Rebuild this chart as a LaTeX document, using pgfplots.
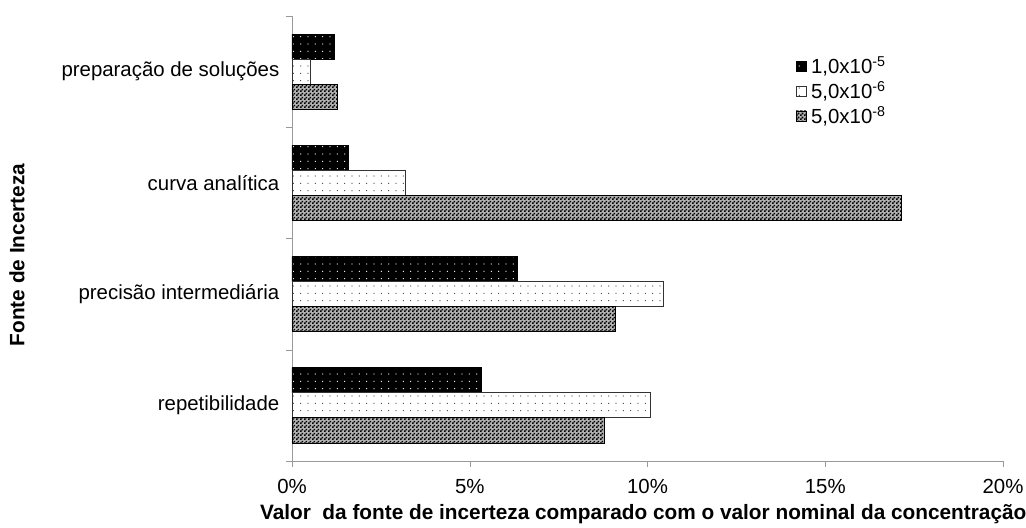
\documentclass[border=0pt]{standalone}
\usepackage{fontspec}
\setmainfont{Liberation Sans}
\usepackage{pgfplots}
\pgfplotsset{compat=1.18}
\usetikzlibrary{patterns,patterns.meta}

\pgfdeclarepatternformonly{checker}{\pgfqpoint{0pt}{0pt}}{\pgfqpoint{3pt}{3pt}}{\pgfqpoint{3pt}{3pt}}{%
  \pgfpathrectangle{\pgfqpoint{0pt}{0pt}}{\pgfqpoint{1.5pt}{1.5pt}}%
  \pgfpathrectangle{\pgfqpoint{1.5pt}{1.5pt}}{\pgfqpoint{1.5pt}{1.5pt}}%
  \pgfusepath{fill}}

\newcommand{\lbl}{\fontsize{15.3pt}{17pt}\selectfont}
\newcommand{\xlbl}{\fontsize{15.6pt}{17pt}\selectfont}

\begin{document}
\begin{tikzpicture}
\begin{axis}[
    xbar,
    scale only axis,
    width=533.25pt, height=333.75pt,
    xmin=0, xmax=20,
    ymin=-0.5, ymax=3.5,
    bar width=0.225,
    axis x line=bottom, axis y line=left,
    axis line style={-, draw=gray!80},
    tick style={draw=gray!80},
    tick align=outside,
    major tick length=0pt,
    minor tick length=4.5pt,
    xtick={0,5,10,15,20},
    xticklabels={0\%,5\%,10\%,15\%,20\%},
    minor xtick={0,5,10,15,20},
    ytick={0,1,2,3},
    yticklabels={repetibilidade, precisão intermediária, curva analítica, preparação de soluções},
    minor ytick={-0.5,0.5,1.5,2.5,3.5},
    tick label style={font=\lbl},
    x tick label style={yshift=-10pt},
    y tick label style={xshift=-6pt},
    xlabel={Valor\ \ da fonte de incerteza comparado com o valor nominal da concentração},
    ylabel={Fonte de Incerteza},
    every axis x label/.style={at={(axis description cs:0.494,-0.12)}, anchor=center, font=\xlbl\bfseries},
    every axis y label/.style={at={(axis description cs:-0.387,0.463)}, rotate=90, anchor=center, font=\xlbl\bfseries},
    legend image code/.code={\draw[#1] (0pt,-3.75pt) rectangle (7.5pt,3.75pt);},
    legend style={at={(axis description cs:0.708,0.915)}, anchor=north west, draw=none, fill=none,
        font=\lbl, row sep=0.5pt, inner sep=0pt,
        nodes={inner xsep=3.5pt}},
    legend cell align=left,
]
\addplot[draw=black, line width=0.6pt, fill=black, bar shift=0.225,
    postaction={pattern={Dots[distance=5.5pt, radius=0.45pt]}, pattern color=white}]
  coordinates {(5.34,0) (6.33,1) (1.60,2) (1.18,3)};
\addplot[draw=black!80, line width=0.6pt, fill=white, bar shift=0,
    postaction={pattern={Dots[distance=5.5pt, radius=0.45pt]}, pattern color=black!75}]
  coordinates {(10.07,0) (10.44,1) (3.20,2) (0.51,3)};
\addplot[draw=black, line width=0.6pt, fill=black!30, bar shift=-0.225,
    postaction={pattern=checker, pattern color=black}]
  coordinates {(8.80,0) (9.09,1) (17.15,2) (1.27,3)};
\legend{{1,0x10\textsuperscript{-5}}, {5,0x10\textsuperscript{-6}}, {5,0x10\textsuperscript{-8}}}
\end{axis}
\pgfresetboundingbox
\path ([xshift=-219pt,yshift=-50.25pt]current axis.south west) rectangle ++(769.5pt,396pt);
\end{tikzpicture}
\end{document}
